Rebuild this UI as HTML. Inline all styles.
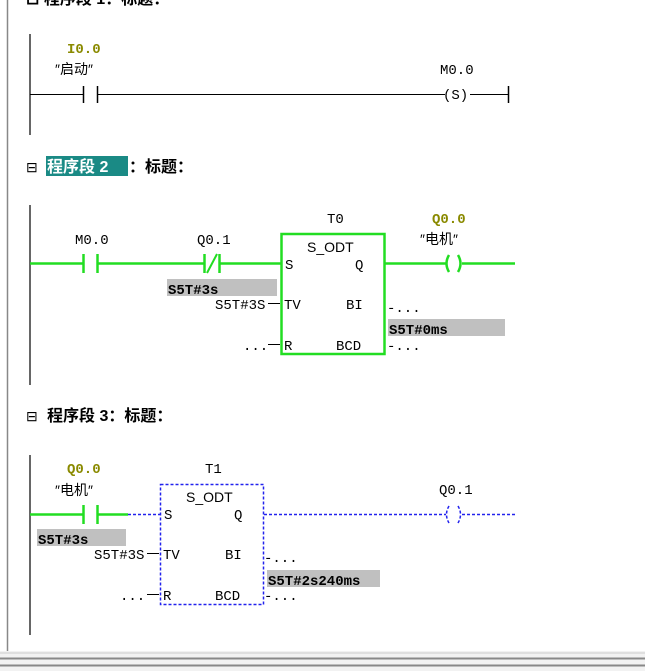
<!DOCTYPE html>
<html><head><meta charset="utf-8"><style>
html,body{margin:0;padding:0;background:#fff;}
svg{display:block;}
text{font-family:"Liberation Mono","Noto Sans CJK SC",monospace;font-size:14px;fill:#000;}
.s{font-family:"Liberation Sans","Noto Sans CJK SC",sans-serif;}
.h{font-size:16px;}
.b{font-weight:bold;}
.o{fill:#8a8a00;font-weight:bold;}
</style></head><body>
<svg width="645" height="671" viewBox="0 0 645 671" xmlns="http://www.w3.org/2000/svg">
<rect x="0" y="0" width="645" height="671" fill="#fff"/>
<line x1="7.5" y1="0" x2="7.5" y2="652" stroke="#888" stroke-width="1.5"/>
<rect x="0" y="651" width="645" height="20" fill="#f2f2f2"/>
<line x1="0" y1="653" x2="645" y2="653" stroke="#ccc"/>
<line x1="0" y1="658.5" x2="645" y2="658.5" stroke="#888" stroke-width="2"/>
<line x1="0" y1="665.5" x2="645" y2="665.5" stroke="#888" stroke-width="2"/>

<!-- Network 1 -->
<text x="26" y="4" class="s b h">⊟ 程序段 1：标题：</text>
<line x1="30" y1="34" x2="30" y2="135" stroke="#333" stroke-width="1.5"/>
<text x="67" y="53" class="o">I0.0</text>
<text x="55" y="74" class="s">″启动″</text>
<line x1="30" y1="94.5" x2="83" y2="94.5" stroke="#000"/>
<line x1="83.5" y1="86" x2="83.5" y2="103" stroke="#000" stroke-width="1.5"/>
<line x1="97.5" y1="86" x2="97.5" y2="103" stroke="#000" stroke-width="1.5"/>
<line x1="98" y1="94.5" x2="445" y2="94.5" stroke="#000"/>
<text x="440" y="74">M0.0</text>
<text x="443" y="99" font-size="13">(S)</text>
<line x1="470" y1="94.5" x2="508" y2="94.5" stroke="#000"/>
<line x1="508.5" y1="86" x2="508.5" y2="103" stroke="#000" stroke-width="1.5"/>

<!-- Network 2 header -->
<text x="26" y="172" class="s">⊟</text>
<rect x="46" y="156" width="82" height="20" fill="#1a8a85"/>
<text x="47" y="172" class="s b h" style="fill:#fff">程序段 2</text>
<text x="129" y="172" class="s b h">：标题：</text>
<line x1="30" y1="205" x2="30" y2="385" stroke="#333" stroke-width="1.5"/>
<text x="75" y="244">M0.0</text>
<text x="197" y="244">Q0.1</text>
<line x1="30" y1="263.5" x2="83" y2="263.5" stroke="#22dd22" stroke-width="2.5"/>
<line x1="83.5" y1="254" x2="83.5" y2="273" stroke="#22dd22" stroke-width="2.5"/>
<line x1="97.5" y1="254" x2="97.5" y2="273" stroke="#22dd22" stroke-width="2.5"/>
<line x1="98" y1="263.5" x2="204" y2="263.5" stroke="#22dd22" stroke-width="2.5"/>
<line x1="204.5" y1="254" x2="204.5" y2="273" stroke="#22dd22" stroke-width="2.5"/>
<line x1="219.5" y1="254" x2="219.5" y2="273" stroke="#22dd22" stroke-width="2.5"/>
<line x1="207" y1="273" x2="217" y2="254" stroke="#22dd22" stroke-width="2"/>
<line x1="220" y1="263.5" x2="282" y2="263.5" stroke="#22dd22" stroke-width="2.5"/>
<rect x="281.5" y="234" width="103" height="120" fill="none" stroke="#22dd22" stroke-width="2.5"/>
<text x="327" y="223">T0</text>
<text x="307" y="252" class="s">S_ODT</text>
<text x="285" y="269">S</text>
<text x="355" y="269">Q</text>
<rect x="167" y="279" width="110" height="17" fill="#c0c0c0"/>
<text x="168" y="294" class="b">S5T#3s</text>
<text x="215" y="309">S5T#3S</text>
<line x1="268" y1="303.5" x2="280" y2="303.5" stroke="#000"/>
<text x="284" y="309">TV</text>
<text x="346" y="309">BI</text>
<text x="387" y="312">-...</text>
<rect x="388" y="319" width="117" height="17" fill="#c0c0c0"/>
<text x="389" y="334" class="b">S5T#0ms</text>
<text x="243" y="350">...</text>
<line x1="268" y1="344.5" x2="280" y2="344.5" stroke="#000"/>
<text x="284" y="350">R</text>
<text x="336" y="350">BCD</text>
<text x="387" y="350">-...</text>
<line x1="385" y1="263.5" x2="446" y2="263.5" stroke="#22dd22" stroke-width="2.5"/>
<text x="432" y="223" class="o">Q0.0</text>
<text x="420" y="244" class="s">″电机″</text>
<path d="M449 255 Q444 263.5 449 272" fill="none" stroke="#22dd22" stroke-width="2.5"/>
<path d="M458 255 Q463 263.5 458 272" fill="none" stroke="#22dd22" stroke-width="2.5"/>
<line x1="462" y1="263.5" x2="515" y2="263.5" stroke="#22dd22" stroke-width="2.5"/>

<!-- Network 3 -->
<text x="26" y="421" class="s">⊟</text>
<text x="47" y="421" class="s b h">程序段 3：标题：</text>
<line x1="30" y1="455" x2="30" y2="635" stroke="#333" stroke-width="1.5"/>
<text x="67" y="473" class="o">Q0.0</text>
<text x="55" y="495" class="s">″电机″</text>
<line x1="30" y1="514.5" x2="83" y2="514.5" stroke="#22dd22" stroke-width="2.5"/>
<line x1="83.5" y1="505" x2="83.5" y2="524" stroke="#22dd22" stroke-width="2.5"/>
<line x1="97.5" y1="505" x2="97.5" y2="524" stroke="#22dd22" stroke-width="2.5"/>
<line x1="98" y1="514.5" x2="128" y2="514.5" stroke="#22dd22" stroke-width="2.5"/>
<line x1="128" y1="514.5" x2="160" y2="514.5" stroke="#2222ee" stroke-width="1.5" stroke-dasharray="3,2"/>
<rect x="160.5" y="484.5" width="103" height="120" fill="none" stroke="#2222ee" stroke-width="1.5" stroke-dasharray="3,2"/>
<text x="205" y="473">T1</text>
<text x="186" y="502" class="s">S_ODT</text>
<text x="164" y="519">S</text>
<text x="234" y="519">Q</text>
<rect x="37" y="529" width="89" height="17" fill="#c0c0c0"/>
<text x="38" y="544" class="b">S5T#3s</text>
<text x="94" y="559">S5T#3S</text>
<line x1="147" y1="553.5" x2="159" y2="553.5" stroke="#000"/>
<text x="163" y="559">TV</text>
<text x="225" y="559">BI</text>
<text x="264" y="562">-...</text>
<rect x="267" y="570" width="113" height="17" fill="#c0c0c0"/>
<text x="268" y="585" class="b">S5T#2s240ms</text>
<text x="120" y="600">...</text>
<line x1="147" y1="594.5" x2="159" y2="594.5" stroke="#000"/>
<text x="163" y="600">R</text>
<text x="215" y="600">BCD</text>
<text x="264" y="600">-...</text>
<line x1="264" y1="514.5" x2="446" y2="514.5" stroke="#2222ee" stroke-width="1.5" stroke-dasharray="3,2"/>
<text x="439" y="494">Q0.1</text>
<path d="M449 506 Q444 514.5 449 523" fill="none" stroke="#2222ee" stroke-width="1.5" stroke-dasharray="3,2"/>
<path d="M458 506 Q463 514.5 458 523" fill="none" stroke="#2222ee" stroke-width="1.5" stroke-dasharray="3,2"/>
<line x1="462" y1="514.5" x2="515" y2="514.5" stroke="#2222ee" stroke-width="1.5" stroke-dasharray="3,2"/>
</svg>
</body></html>
